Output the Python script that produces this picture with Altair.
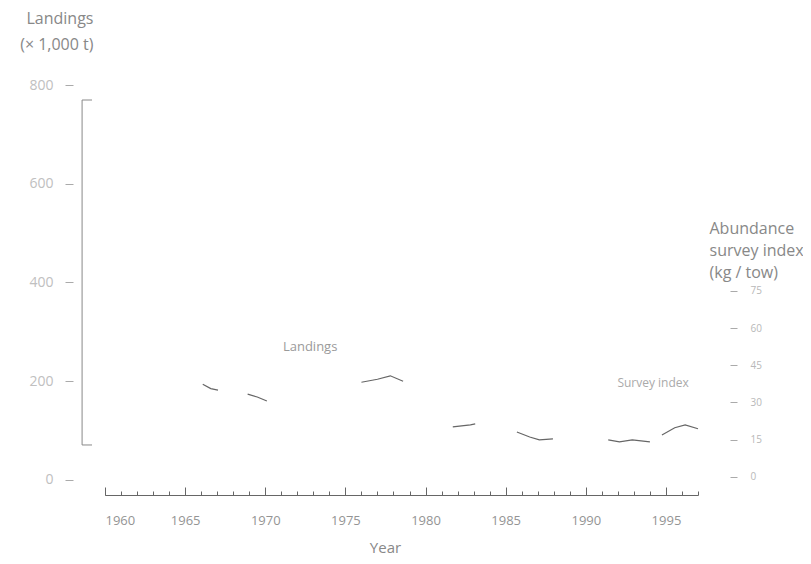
import altair as alt
import pandas as pd

# ---- data ----
land_year = [1966.1, 1966.6, 1967.05, 1968.9, 1969.5, 1970.1, 1976.0, 1977.0, 1977.8, 1978.6]
land_value = [194, 185, 182, 174, 168, 160, 198, 204, 211, 200]
land_seg = ["a", "a", "a", "b", "b", "b", "c", "c", "c", "c"]

surv_year = [1981.7, 1982.8, 1983.1, 1985.7, 1986.5, 1987.1, 1987.95,
             1991.4, 1992.1, 1992.9, 1994.0, 1994.75, 1995.55, 1996.2, 1997.0]
surv_value = [20.2, 21.0, 21.4, 18.1, 16.1, 14.9, 15.3,
              14.9, 14.1, 14.9, 14.1, 16.9, 19.8, 21.0, 19.4]
surv_seg = ["d", "d", "d", "e", "e", "e", "e", "f", "f", "f", "f", "g", "g", "g", "g"]

x_label_years = [1960, 1965, 1970, 1975, 1980, 1985, 1990, 1995]
minor_tick_years = list(range(1960, 1998))
left_ticks = [0, 200, 400, 600, 800]
right_ticks = [0, 15, 30, 45, 60, 75]
x_domain = [1960, 1997]
left_domain = [-30.4, 800]
right_domain = [-7.3, 158]

bracket_year = [1958.57]
bracket_cap_end = [1959.19]
bracket_top = [769.6]
bracket_bottom = [70.9]

land_label = ["Landings"]
land_label_year = [1972.8]
land_label_value = [269]
surv_label = ["Survey index"]
surv_label_year = [1994.2]
surv_label_value = [37.9]

land_df = pd.DataFrame({"year": land_year, "value": land_value, "seg": land_seg})
surv_df = pd.DataFrame({"year": surv_year, "value": surv_value, "seg": surv_seg})
bracket_df = pd.DataFrame({"x": bracket_year, "top": bracket_top, "bottom": bracket_bottom})
caps_df = pd.DataFrame({"x": bracket_year * 2, "x2": bracket_cap_end * 2,
                        "y": bracket_top + bracket_bottom})
land_lab_df = pd.DataFrame({"year": land_label_year, "value": land_label_value, "t": land_label})
surv_lab_df = pd.DataFrame({"year": surv_label_year, "value": surv_label_value, "t": surv_label})

FONT = "Open Sans"
xs = alt.Scale(domain=x_domain, nice=False, zero=False)
ls = alt.Scale(domain=left_domain, nice=False, zero=False)
rs = alt.Scale(domain=right_domain, nice=False, zero=False)

H = 410
W = 593

land_line = alt.Chart(land_df).mark_line(color="#666", strokeWidth=1.2).encode(
    x=alt.X("year:Q", scale=xs, axis=alt.Axis(
        orient="bottom", values=x_label_years, ticks=False, domain=False, grid=False,
        labelPadding=19, labelFontSize=13, labelColor="#949494", labelFont=FONT,
        format="d", title="Year", titleFont=FONT, titleFontSize=15,
        titleFontWeight="normal", titleColor="#888", titleX=280, titleY=52,
        titleBaseline="middle", titleAlign="center")),
    y=alt.Y("value:Q", scale=ls, axis=alt.Axis(
        orient="left", values=left_ticks, offset=32, tickSize=8, tickColor="#aaa",
        domain=False, grid=False, labelPadding=12, labelFontSize=14,
        labelColor="#c0c0c0", labelFont=FONT,
        title=["Landings", "(× 1,000 t)"], titleAngle=0, titleAlign="right",
        titleBaseline="top", titleX=20, titleY=-75, titleLineHeight=26,
        titleFont=FONT, titleFontSize=16, titleFontWeight="normal", titleColor="#888")),
    detail="seg:N",
)

surv_line = alt.Chart(surv_df).mark_line(color="#666", strokeWidth=1.2).encode(
    x=alt.X("year:Q", scale=xs, axis=alt.Axis(
        orient="top", offset=-H, values=minor_tick_years, tickSize=4, tickColor="#666",
        domain=True, domainColor="#666", labels=False, grid=False, title=None)),
    y=alt.Y("value:Q", scale=rs, axis=alt.Axis(
        orient="right", values=right_ticks, offset=32, tickSize=7, tickColor="#aaa",
        domain=False, grid=False, labelPadding=13, labelFontSize=10,
        labelColor="#b8b8b8", labelFont=FONT,
        title=["Abundance", "survey index", "(kg / tow)"], titleAngle=0,
        titleAlign="left", titleBaseline="top", titleX=-21, titleY=135,
        titleLineHeight=22, titleFont=FONT, titleFontSize=16,
        titleFontWeight="normal", titleColor="#888")),
    detail="seg:N",
)

bracket = alt.Chart(bracket_df).mark_rule(color="#888", strokeWidth=1).encode(
    x=alt.X("x:Q", scale=xs, axis=alt.Axis(
        orient="top", offset=-H, values=x_label_years, tickSize=8, tickColor="#666",
        domain=False, labels=False, grid=False, title=None)),
    y=alt.Y("top:Q", scale=ls, axis=None),
    y2="bottom:Q",
)

caps = alt.Chart(caps_df).mark_rule(color="#888", strokeWidth=1).encode(
    x=alt.X("x:Q", scale=xs, axis=None),
    x2="x2:Q",
    y=alt.Y("y:Q", scale=ls, axis=None),
)

land_lab = alt.Chart(land_lab_df).mark_text(
    font=FONT, fontSize=13, color="#9a9a9a").encode(
    x=alt.X("year:Q", scale=xs, axis=None),
    y=alt.Y("value:Q", scale=ls, axis=None),
    text="t:N",
)

surv_lab = alt.Chart(surv_lab_df).mark_text(
    font=FONT, fontSize=12, color="#aaa").encode(
    x=alt.X("year:Q", scale=xs, axis=None),
    y=alt.Y("value:Q", scale=rs, axis=None),
    text="t:N",
)

chart = alt.layer(land_line, surv_line, bracket, caps, land_lab, surv_lab).resolve_scale(
    y="independent"
).resolve_axis(
    x="independent"
).properties(
    width=W, height=H,
    autosize=alt.AutoSizeParams(type="none"),
    padding={"left": 97, "top": 77, "right": 105, "bottom": 66},
    background="white",
).configure_view(stroke=None)

chart.save("out.html", embed_options={"renderer": "svg", "actions": False})
